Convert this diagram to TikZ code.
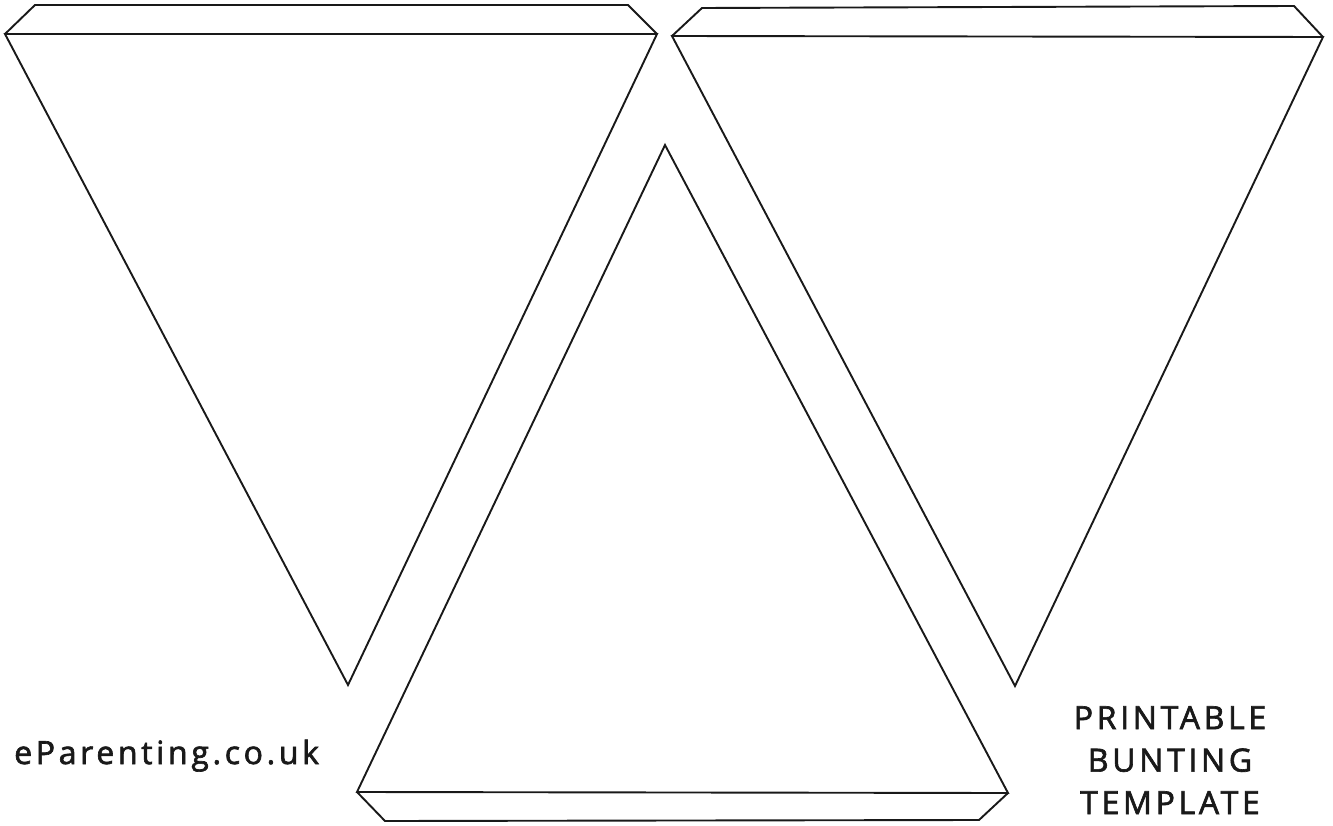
\documentclass[tikz,border=0pt]{standalone}
\usepackage{fontspec}
\newfontfamily\labelfont[LetterSpace=11.5,FakeBold=2]{Open Sans}
\begin{document}
\begin{tikzpicture}[x=1pt,y=-1pt,
  edge/.style={draw=black!90,line width=1.9pt,line join=miter},
  lbl/.style={font=\labelfont\fontsize{32}{42.5}\selectfont,inner sep=0pt,text=black!90}]
\useasboundingbox[fill=white] (0,0) rectangle (1333,826);
% left flag
\coordinate (la) at (5,34);
\coordinate (lb) at (657,34);
\coordinate (lc) at (348,685);
\coordinate (lfa) at (35,5);
\coordinate (lfb) at (628,5);
\draw[edge] (la) -- (lb) -- (lc) -- cycle;
\draw[edge] (la) -- (lfa) -- (lfb) -- (lb);
% right flag
\coordinate (ra) at (672,36);
\coordinate (rb) at (1323,37);
\coordinate (rc) at (1015,686);
\coordinate (rfa) at (702,8);
\coordinate (rfb) at (1294,6);
\draw[edge] (ra) -- (rb) -- (rc) -- cycle;
\draw[edge] (ra) -- (rfa) -- (rfb) -- (rb);
% middle flag
\coordinate (ma) at (357,792);
\coordinate (mb) at (1008,793);
\coordinate (mc) at (665,145);
\coordinate (mfa) at (385,821);
\coordinate (mfb) at (979,820);
\draw[edge] (ma) -- (mb) -- (mc) -- cycle;
\draw[edge] (ma) -- (mfa) -- (mfb) -- (mb);
% labels
\node[lbl,anchor=base west] (site) at (14,764) {eParenting.co.uk};
\node[lbl,align=center,anchor=north] (title) at (1170,706) {PRINTABLE\\BUNTING\\TEMPLATE};
\end{tikzpicture}
\end{document}
